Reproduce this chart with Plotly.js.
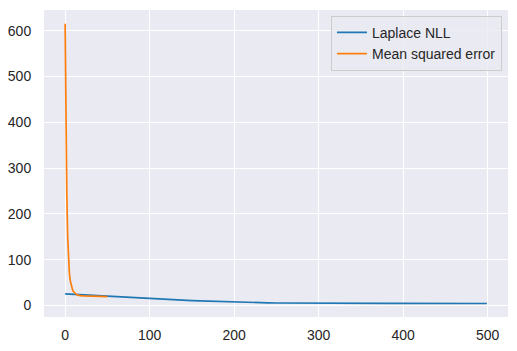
<!DOCTYPE html>
<html>
<head>
<meta charset="utf-8">
<script src="https://cdn.plot.ly/plotly-3.0.1.min.js"></script>
<style>html,body{margin:0;padding:0;background:#fff;}#chart{width:517px;height:351px;}</style>
</head>
<body>
<div id="chart"></div>
<script>
// Laplace NLL, sampled every 10 epochs (last point at epoch 499)
const laplaceEpochs = [0,10,20,30,40,50,60,70,80,90,100,110,120,130,140,150,160,170,180,190,200,210,220,230,240,250,260,270,280,290,300,310,320,330,340,350,360,370,380,390,400,410,420,430,440,450,460,470,480,490,499];
const laplaceNLL = [25.5,24.4,23.3,22.2,21.1,20.0,19.0,18.0,17.0,16.0,15.0,14.1,13.2,12.3,11.5,10.7,10.0,9.3,8.6,8.0,7.5,7.0,6.6,6.2,5.9,5.6,5.4,5.2,5.0,4.9,4.8,4.8,4.7,4.7,4.7,4.6,4.6,4.6,4.6,4.6,4.5,4.5,4.5,4.5,4.5,4.5,4.5,4.5,4.5,4.5,4.5];
// Mean squared error, epochs 0..50
const mseEpochs = [0,1,2,3,4,5,6,7,8,9,10,11,12,13,14,15,16,17,18,19,20,22,24,26,28,30,32,34,36,38,40,42,44,46,48,50];
const mse = [615,380,240,150,100,72,55,45,38,33,30,28,26,24.5,23.5,22.8,22.2,21.8,21.5,21.3,21.1,20.9,20.8,20.7,20.6,20.5,20.4,20.3,20.2,20.1,20.0,19.9,19.8,19.7,19.6,19.5];
const xTicks = [0,100,200,300,400,500];
const yTicks = [0,100,200,300,400,500,600];

const font = {family: '"Liberation Sans", Arial, sans-serif', size: 14, color: '#262626'};

const traces = [
  {x: laplaceEpochs, y: laplaceNLL, type: 'scatter', mode: 'lines', name: 'Laplace NLL',
   line: {color: '#1f77b4', width: 1.7}},
  {x: mseEpochs, y: mse, type: 'scatter', mode: 'lines', name: 'Mean squared error',
   line: {color: '#ff7f0e', width: 1.7}}
];

const layout = {
  width: 517, height: 351,
  margin: {l: 44, r: 9, t: 10, b: 34, pad: 0},
  paper_bgcolor: '#ffffff',
  plot_bgcolor: '#eaeaf2',
  font: font,
  showlegend: true,
  xaxis: {range: [-25, 524], tickvals: xTicks, ticktext: xTicks.map(String),
          showgrid: true, gridcolor: '#ffffff', gridwidth: 1, zeroline: false,
          showline: false, ticks: 'outside', ticklen: 5, tickcolor: 'rgba(0,0,0,0)', tickfont: font},
  yaxis: {range: [-25, 645], tickvals: yTicks, ticktext: yTicks.map(String),
          showgrid: true, gridcolor: '#ffffff', gridwidth: 1, zeroline: false,
          showline: false, ticks: 'outside', ticklen: 9, tickcolor: 'rgba(0,0,0,0)', tickfont: font},
  legend: {x: 0.987, y: 0.981, xanchor: 'right', yanchor: 'top',
           bgcolor: 'rgba(234,234,242,0.8)', bordercolor: '#cccccc', borderwidth: 1,
           font: font, tracegroupgap: 0}
};

Plotly.newPlot('chart', traces, layout, {displayModeBar: false, staticPlot: true});
</script>
</body>
</html>
